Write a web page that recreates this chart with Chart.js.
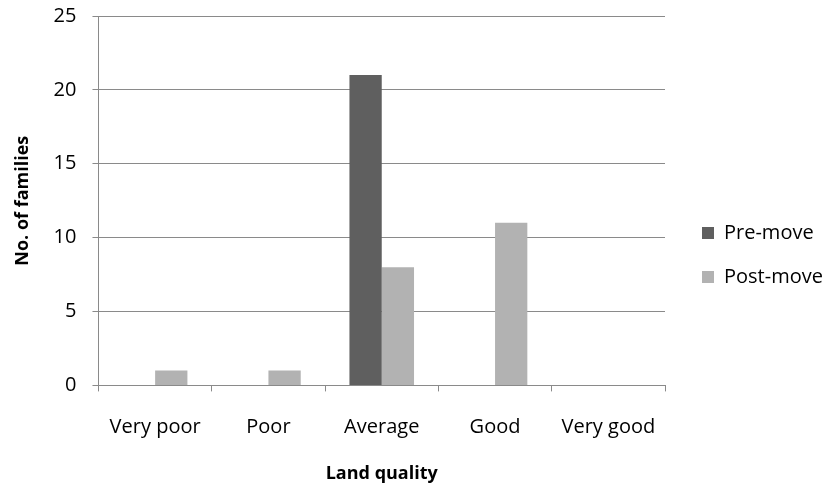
<!DOCTYPE html>
<html>
<head>
<meta charset="utf-8">
<script src="https://cdn.jsdelivr.net/npm/chart.js@4"></script>
<style>
  html, body { margin: 0; padding: 0; background: #fff; }
  #wrap { width: 825px; height: 486px; }
</style>
</head>
<body>
<div id="wrap"><canvas id="c" width="825" height="486"></canvas></div>
<script>
const categories = ['Very poor', 'Poor', 'Average', 'Good', 'Very good'];
const preMove = [0, 0, 21, 0, 0];
const postMove = [1, 1, 8, 11, 0];
const yTicks = [0, 5, 10, 15, 20, 25];

const FONT = '"Open Sans", sans-serif';
const GRID = '#8a8a8a';

// Legend sits in a fixed-width column to the right of the plot,
// with its swatches inset from the plot edge and nudged a little below centre.
const LEGEND_WIDTH = 160;
const LEGEND_INSET = 37;
const LEGEND_DROP = 12;
const legendPlacement = {
  id: 'legendPlacement',
  beforeLayout(chart) {
    const leg = chart.legend;
    if (!leg || leg._placed) return;
    leg._placed = true;
    const fit = leg.fit;
    leg.fit = function () { fit.call(this); this.width = LEGEND_WIDTH; };
  },
  afterLayout(chart) {
    const leg = chart.legend;
    if (!leg) return;
    leg.left = chart.chartArea.right + LEGEND_INSET - leg.options.labels.padding;
    leg.top += LEGEND_DROP;
    leg.bottom += LEGEND_DROP;
  }
};

new Chart(document.getElementById('c'), {
  type: 'bar',
  data: {
    labels: categories,
    datasets: [
      { label: 'Pre-move', data: preMove, backgroundColor: '#5f5f5f', borderWidth: 0 },
      { label: 'Post-move', data: postMove, backgroundColor: '#b2b2b2', borderWidth: 0 }
    ]
  },
  plugins: [legendPlacement],
  options: {
    responsive: false,
    animation: false,
    layout: { padding: { top: 0, right: 0, left: 0, bottom: 0 } },
    datasets: { bar: { categoryPercentage: 0.57, barPercentage: 1.0 } },
    plugins: {
      tooltip: { enabled: false },
      legend: {
        position: 'right',
        align: 'center',
        labels: {
          color: '#000',
          font: { family: FONT, size: 20 },
          boxWidth: 12,
          boxHeight: 12,
          padding: 24
        }
      }
    },
    scales: {
      x: {
        offset: true,
        grid: { display: true, drawOnChartArea: false, offset: true, color: GRID, tickLength: 6, tickWidth: 1 },
        border: { color: GRID, width: 1 },
        ticks: { color: '#000', font: { family: FONT, size: 20 }, padding: 24, maxRotation: 0 },
        title: { display: true, text: 'Land quality', color: '#000', font: { family: FONT, size: 18, weight: 'bold' }, padding: { top: 0, bottom: 1 } }
      },
      y: {
        min: 0, max: 25,
        afterBuildTicks: (axis) => { axis.ticks = yTicks.map(v => ({ value: v })); },
        // keep only half a label of room above the top gridline
        afterFit: (axis) => { axis.paddingTop = 16; },
        grid: { color: GRID, tickLength: 6, lineWidth: 1 },
        border: { color: GRID, width: 1 },
        ticks: { color: '#000', font: { family: FONT, size: 20 }, padding: 16 },
        title: { display: true, text: 'No. of families', color: '#000', font: { family: FONT, size: 18, weight: 'bold' }, padding: { top: 12, bottom: 4 } }
      }
    }
  }
});
</script>
</body>
</html>
